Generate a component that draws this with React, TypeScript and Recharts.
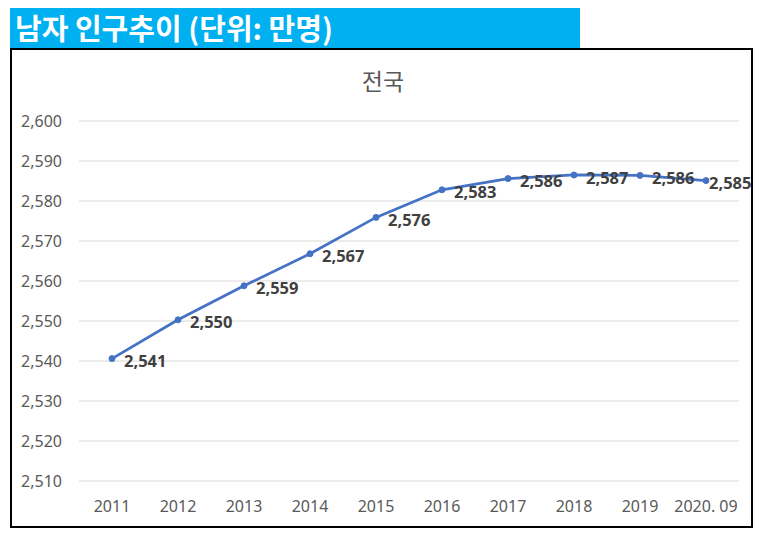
import React from 'react';
import { LineChart, Line, XAxis, YAxis, CartesianGrid, LabelList } from 'recharts';

const years = ['2011', '2012', '2013', '2014', '2015', '2016', '2017', '2018', '2019', '2020. 09'];
const malePop = [2540.6, 2550.3, 2558.8, 2566.8, 2575.9, 2582.8, 2585.6, 2586.5, 2586.4, 2585.1];
const yTicks = [2510, 2520, 2530, 2540, 2550, 2560, 2570, 2580, 2590, 2600];

const data = years.map((year, i) => ({ year, value: malePop[i] }));

const numFont = '"Noto Sans", sans-serif';
const krFont = '"Noto Sans CJK KR", sans-serif';

const fmt = (v: number) => Math.round(v).toLocaleString('en-US');

const ValueLabel = (props: any) => {
  const { x, y, value, index } = props;
  // last label squeezed close to the point, like in the original
  const dx = index === years.length - 1 ? 3 : 12;
  return (
    <text
      x={x + dx}
      y={y + 2}
      dominantBaseline="central"
      fontFamily={numFont}
      fontSize={16.5}
      fontWeight="bold"
      fill="#404040"
    >
      {fmt(value)}
    </text>
  );
};

export default function App() {
  return (
    <div style={{ position: 'absolute', left: 0, top: 0, width: 761, height: 537, background: '#fff' }}>
      <div
        style={{
          position: 'absolute',
          left: 10,
          top: 8,
          width: 570,
          height: 40,
          background: '#00B0F0',
          color: '#fff',
          fontFamily: krFont,
          fontWeight: 'bold',
          fontSize: 29,
          lineHeight: '38px',
          paddingLeft: 5,
          boxSizing: 'border-box',
          whiteSpace: 'nowrap',
        }}
      >
        남자 인구추이 (단위: 만명)
      </div>
      <div
        style={{
          position: 'absolute',
          left: 10,
          top: 48,
          width: 743,
          height: 480,
          border: '2px solid #000',
          boxSizing: 'border-box',
        }}
      />
      <div
        style={{
          position: 'absolute',
          left: 283,
          top: 64,
          width: 200,
          textAlign: 'center',
          fontFamily: krFont,
          fontSize: 23,
          color: '#595959',
          lineHeight: '32px',
        }}
      >
        전국
      </div>
      <div style={{ position: 'absolute', left: 0, top: 0 }}>
        <LineChart
          width={761}
          height={537}
          data={data}
          margin={{ top: 121, right: 22, bottom: 26, left: 0 }}
        >
          <CartesianGrid horizontal vertical={false} stroke="#D9D9D9" strokeWidth={1} />
          <XAxis
            dataKey="year"
            height={30}
            padding={{ left: 33, right: 33 }}
            axisLine={false}
            tickLine={false}
            tickSize={0}
            tickMargin={20}
            interval={0}
            tick={{ fontFamily: numFont, fontSize: 16, fill: '#595959' }}
          />
          <YAxis
            width={79}
            domain={[2510, 2600]}
            ticks={yTicks}
            axisLine={false}
            tickLine={false}
            tickSize={0}
            tickMargin={17}
            tickFormatter={fmt}
            tick={{ fontFamily: numFont, fontSize: 16, fill: '#595959' }}
          />
          <Line
            dataKey="value"
            stroke="#4472C4"
            strokeWidth={2.75}
            dot={{ r: 3, fill: '#4472C4', stroke: '#4472C4', strokeWidth: 1 }}
            isAnimationActive={false}
          >
            <LabelList dataKey="value" content={<ValueLabel />} />
          </Line>
        </LineChart>
      </div>
    </div>
  );
}
